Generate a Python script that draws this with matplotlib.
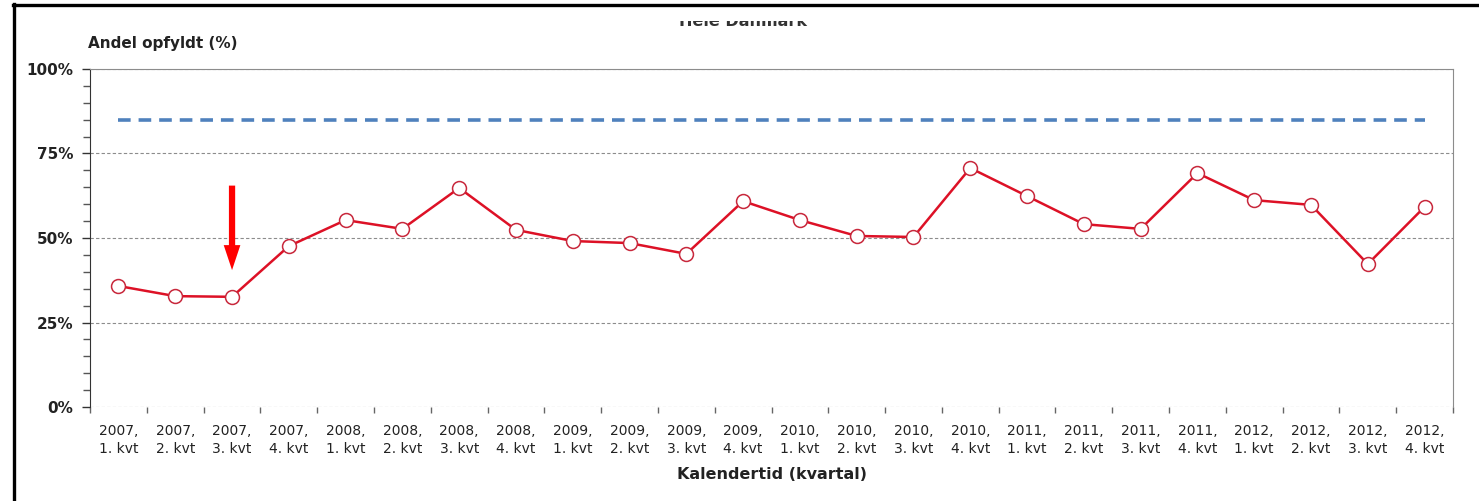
import numpy as np
import matplotlib.pyplot as plt
from matplotlib.lines import Line2D
from matplotlib.patches import Rectangle

# quarterly share fulfilled (%)
quarters = ['2007,\n1. kvt', '2007,\n2. kvt', '2007,\n3. kvt', '2007,\n4. kvt',
            '2008,\n1. kvt', '2008,\n2. kvt', '2008,\n3. kvt', '2008,\n4. kvt',
            '2009,\n1. kvt', '2009,\n2. kvt', '2009,\n3. kvt', '2009,\n4. kvt',
            '2010,\n1. kvt', '2010,\n2. kvt', '2010,\n3. kvt', '2010,\n4. kvt',
            '2011,\n1. kvt', '2011,\n2. kvt', '2011,\n3. kvt', '2011,\n4. kvt',
            '2012,\n1. kvt', '2012,\n2. kvt', '2012,\n3. kvt', '2012,\n4. kvt']
andel = [35.8, 32.8, 32.6, 47.6, 55.3, 52.7, 64.8, 52.4,
         49.1, 48.5, 45.3, 60.9, 55.3, 50.6, 50.3, 70.7,
         62.4, 54.1, 52.7, 69.2, 61.2, 59.8, 42.3, 59.2]
maal = 85  # target level
y_ticks = [0, 25, 50, 75, 100]
y_labels = ['0%', '25%', '50%', '75%', '100%']

# arrow marking 2007, 3. kvt
pil_x = 2
pil_fra = 65.5
pil_til = 40.5

plt.rcParams['font.family'] = 'DejaVu Sans'

fig = plt.figure(figsize=(14.79, 5.01), dpi=100)
ax = fig.add_axes([0.0609, 0.1876, 0.9215, 0.6747])

x = np.arange(len(quarters))

# target line
ax.plot([x[0], x[-1]], [maal, maal], color='#4f81bd', lw=2.6, dashes=(3.5, 2.2), zorder=2)

# data line
ax.plot(x, andel, color='#dd1126', lw=1.8, marker='o', markersize=10,
        markerfacecolor='white', markeredgecolor='#c8283c', markeredgewidth=1.1, zorder=3)

ax.annotate('', xy=(pil_x, pil_til), xytext=(pil_x, pil_fra),
            arrowprops=dict(arrowstyle='simple,head_length=18,head_width=12,tail_width=4.5',
                            mutation_scale=1, color='#ff0000', lw=0,
                            shrinkA=0, shrinkB=0), zorder=4)

ax.set_xlim(-0.5, len(quarters) - 0.5)
ax.set_ylim(0, 100)

# axes styling
ax.set_yticks(y_ticks)
ax.set_yticklabels(y_labels, fontsize=11, fontweight='bold', color='#222222')
ax.set_yticks(np.arange(0, 101, 5), minor=True)
ax.tick_params(axis='y', which='major', length=6, width=1, color='#333333', pad=6)
ax.tick_params(axis='y', which='minor', length=5, width=1, color='#555555')

ax.set_xticks(x)
ax.set_xticklabels(quarters, fontsize=10, color='#222222', linespacing=1.4)
ax.set_xticks(np.arange(-0.5, len(quarters), 1), minor=True)
ax.tick_params(axis='x', which='major', length=0, pad=12)
ax.tick_params(axis='x', which='minor', length=4, width=1, color='#666666')

ax.grid(axis='y', which='major', color='#8c8c8c', linestyle=(0, (3, 2)), lw=0.8)
ax.set_axisbelow(True)

ax.spines['left'].set_color('#333333')
ax.spines['top'].set_color('#8c8c8c')
ax.spines['right'].set_color('#8c8c8c')
ax.spines['bottom'].set_visible(False)

ax.set_xlabel('Kalendertid (kvartal)', fontsize=11.5, fontweight='bold', color='#222222', labelpad=8)
fig.text(0.0595, 0.913, 'Andel opfyldt (%)', fontsize=11, fontweight='bold',
         color='#222222', va='center', ha='left')

# title, cut off at the top edge by a white strip
fig.text(0.5025, 0.949, 'Hele Danmark', fontsize=11.5, fontweight='bold',
         color='#333333', ha='center', va='baseline', zorder=1)
fig.add_artist(Rectangle((0, 1 - 21 / 501), 1, 21 / 501, transform=fig.transFigure,
                         facecolor='white', edgecolor='none', zorder=5))

# black frame on top and left
fig.add_artist(Line2D([0.0091, 1.0], [0.990, 0.990], transform=fig.transFigure,
                      color='black', lw=2.4, zorder=6))
fig.add_artist(Line2D([0.0095, 0.0095], [0.0, 0.992], transform=fig.transFigure,
                      color='black', lw=2.4, zorder=6))

fig.savefig('out.png', dpi=100)
